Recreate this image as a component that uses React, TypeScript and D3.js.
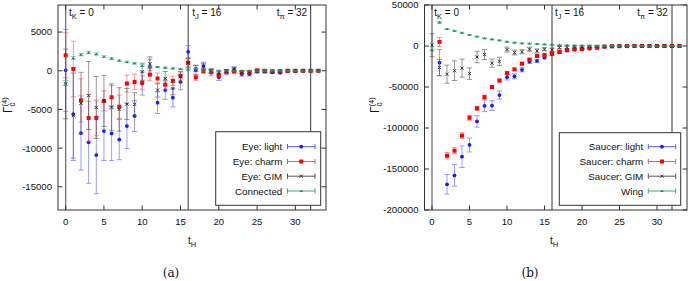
import React from "react";
import * as d3 from "d3";

const tH = [0,1,2,3,4,5,6,7,8,9,10,11,12,13,14,15,16,17,18,19,20,21,22,23,24,25,26,27,28,29,30,31,32,33];

// Panel (a)
const eyeLight = [50,-5600,-8050,-9250,-10900,-7800,-8100,-8900,-7150,-5850,-1650,500,-4130,-2500,-3480,-1450,2450,100,600,-250,-850,-200,190,-420,-420,-100,-100,-200,-250,-50,-50,0,0,0];
const eyeLightErr = [5300,6000,4800,5300,5000,3800,3500,2600,2900,2000,1500,1000,1400,1200,1200,1000,800,600,500,400,400,300,300,300,250,200,200,150,150,120,100,100,100,100];
const eyeCharm = [2000,230,-3830,-6100,-6100,-3900,-3430,-4650,-1650,-1450,-1540,-500,-1000,-1800,-1300,-680,1050,-850,-30,-100,-550,-30,-100,-200,-200,60,0,-50,-50,0,0,0,0,0];
const eyeCharmErr = [2900,3600,2800,3000,2300,1300,1500,1500,1100,1000,900,800,700,600,600,500,500,400,300,250,250,200,200,150,150,120,100,100,100,80,80,80,80,80];
const eyeGIM = [-1700,-5800,-4200,-3200,-4750,-3900,-4700,-5000,-4300,-4340,-120,900,-2500,-1000,-2300,-800,1000,300,600,0,-300,-100,200,-200,-200,-50,-50,-100,-100,0,0,0,0,0];
const eyeGIMErr = [4500,5500,4000,4400,4000,3300,3000,2800,2000,1500,1100,900,900,900,800,700,600,400,350,300,300,250,250,200,200,150,150,120,120,100,100,100,100,100];
const connected = [-1550,1650,2080,2360,2170,1820,1580,1320,1130,960,660,530,470,400,310,230,170,230,40,20,10,0,0,0,0,0,0,0,0,0,0,0,0,0];
const connectedErr = [300,200,150,150,150,120,120,100,100,100,100,80,80,80,80,80,80,60,60,60,60,60,60,60,60,60,60,60,60,60,60,60,60,60];

// Panel (b)
const saucerLight = [null,-20300,-168700,-157800,-135000,-120700,-92000,-73000,-72600,-59800,-38000,-37000,-29000,-19100,-18100,-14000,-10000,-7800,-5500,-4500,-4000,-3000,-2000,-1000,-500,-300,-200,-100,0,0,0,0,0,0];
const saucerLightErr = [null,16000,12000,13200,13200,8500,7000,7000,6000,5000,3500,3000,2500,2000,2000,1800,1500,1200,1000,900,800,700,600,500,500,400,400,300,300,300,300,300,300,300];
const saucerCharm = [null,5000,-133800,-127700,-109300,-87500,-76000,-62400,-50000,-42100,-33000,-28500,-21500,-16500,-12200,-11000,-9000,-7000,-5000,-4000,-3800,-2800,-2000,-800,-400,-200,-100,0,0,0,0,0,0,0];
const saucerCharmErr = [null,5500,3900,3900,3500,3000,2500,2500,2000,1800,1600,1500,1400,1300,1200,1100,1000,900,800,700,600,500,500,400,400,300,300,300,200,200,200,200,200,200];
const saucerGIM = [1000,-26200,-34400,-30100,-27000,-33700,-13400,-10500,-21000,-18700,-4300,-8000,-7000,-4000,-6000,-4000,-4500,-2000,-1800,-1200,-1000,-500,-300,-200,-100,0,0,0,0,0,0,0,0,0];
const saucerGIMErr = [14000,10000,11000,12000,11000,7000,7000,6000,5000,5000,3000,3000,2500,2500,2500,2000,2000,1500,1500,1200,1000,1000,800,800,600,600,500,500,400,400,400,400,400,400];
const wing = [-5000,28800,20700,18500,16200,13600,11500,9500,8100,6900,5300,4200,3300,3000,2500,2000,1500,1200,900,700,500,400,300,200,100,0,0,0,0,0,0,0,0,0];
const wingErr = [1000,800,600,500,500,500,500,500,500,500,500,500,500,500,500,500,500,500,500,500,500,500,500,500,500,500,500,500,500,500,500,500,500,500];

const xTicks = [0,5,10,15,20,25,30];
const yTicksA = [-15000,-10000,-5000,0,5000];
const yTicksB = [-200000,-150000,-100000,-50000,0,50000];
const markerLines = [{ t: 0, label: "K", value: "0" }, { t: 16, label: "J", value: "16" }, { t: 32, label: "π", value: "32" }];

const legendA = ["Eye: light", "Eye: charm", "Eye: GIM", "Connected"];
const legendB = ["Saucer: light", "Saucer: charm", "Saucer: GIM", "Wing"];

const STYLES = [
  { color: "#1a1aff", bar: "#5a5aff", marker: "circle" },
  { color: "#ff0000", bar: "#ff5050", marker: "square" },
  { color: "#222222", bar: "#555555", marker: "cross" },
  { color: "#00905e", bar: "#40a880", marker: "tri" },
];

const FONT = "'Liberation Sans', Arial, Helvetica, sans-serif";

type Series = { values: (number | null)[]; errs: (number | null)[] };

function Marker({ kind, x, y, color }: { kind: string; x: number; y: number; color: string }) {
  if (kind === "circle") return <circle cx={x} cy={y} r={1.9} fill={color} />;
  if (kind === "square") return <rect x={x - 2} y={y - 2} width={4} height={4} fill={color} />;
  if (kind === "cross")
    return (
      <path d={`M${x - 1.6},${y - 1.6}L${x + 1.6},${y + 1.6}M${x - 1.6},${y + 1.6}L${x + 1.6},${y - 1.6}`} stroke={color} strokeWidth={0.9} />
    );
  return <path d={`M${x - 1.8},${y + 1}L${x + 1.8},${y + 1}L${x},${y - 1.3}Z`} fill={color} />;
}

function Panel(props: {
  id: string;
  x0: number; x1: number; y0: number; y1: number;
  yDomain: [number, number];
  yTicks: number[];
  series: Series[];
  legend: string[];
  legendBox: { x0: number; x1: number; y0: number; y1: number; textX: number; s0: number; s1: number };
  ylabelX: number;
  xlabelX: number;
  caption: string;
  captionX: number;
  lineLabelX: number[];
}) {
  const { x0, x1, y0, y1 } = props;
  const xs = d3.scaleLinear().domain([-1, 34]).range([x0, x1]);
  const ys = d3.scaleLinear().domain(props.yDomain).range([y1, y0]);
  const tick = 4.5;
  const lb = props.legendBox;
  const rows = [146.7, 161.5, 176.2, 191];
  return (
    <g>
      <defs>
        <clipPath id={props.id}>
          <rect x={x0} y={y0} width={x1 - x0} height={y1 - y0} />
        </clipPath>
      </defs>
      {markerLines.map((m, i) => (
        <line key={i} x1={xs(m.t)} x2={xs(m.t)} y1={y0} y2={y1} stroke={i === 0 ? "#777" : "#333"} strokeWidth={i === 0 ? 1.4 : 1} />
      ))}
      {markerLines.map((m, i) => (
        <text key={"l" + i} x={props.lineLabelX[i]} y={16} fontFamily={FONT} fontSize={10} fill="#111">
          t<tspan fontSize={7.5} dy={2.5}>{m.label}</tspan>
          <tspan dy={-2.5}>{" = " + m.value}</tspan>
        </text>
      ))}
      <g clipPath={`url(#${props.id})`}>
        {props.series.map((s, si) => {
          const st = STYLES[si];
          return (
            <g key={si}>
              {tH.map((t, i) => {
                const v = s.values[i];
                const e = s.errs[i];
                if (v == null || e == null) return null;
                const x = xs(t);
                const ya = ys(v + e);
                const yb = ys(v - e);
                return (
                  <g key={i} stroke={st.bar} strokeOpacity={0.6} strokeWidth={1}>
                    <line x1={x} x2={x} y1={ya} y2={yb} />
                    <line x1={x - 2.6} x2={x + 2.6} y1={ya} y2={ya} />
                    <line x1={x - 2.6} x2={x + 2.6} y1={yb} y2={yb} />
                  </g>
                );
              })}
              {tH.map((t, i) => {
                const v = s.values[i];
                if (v == null) return null;
                return <Marker key={"m" + i} kind={st.marker} x={xs(t)} y={ys(v)} color={st.color} />;
              })}
            </g>
          );
        })}
      </g>
      <rect x={x0} y={y0} width={x1 - x0} height={y1 - y0} fill="none" stroke="#333" strokeWidth={1} />
      {xTicks.map((t) => (
        <g key={"xt" + t}>
          <line x1={xs(t)} x2={xs(t)} y1={y1} y2={y1 - tick} stroke="#333" />
          <line x1={xs(t)} x2={xs(t)} y1={y0} y2={y0 + tick} stroke="#333" />
          <text x={xs(t)} y={225} textAnchor="middle" fontFamily={FONT} fontSize={9.6} fill="#111">{t}</text>
        </g>
      ))}
      {props.yTicks.map((v) => (
        <g key={"yt" + v}>
          <line x1={x0} x2={x0 + tick} y1={ys(v)} y2={ys(v)} stroke="#333" />
          <line x1={x1} x2={x1 - tick} y1={ys(v)} y2={ys(v)} stroke="#333" />
          <text x={x0 - 6} y={ys(v) + 3.4} textAnchor="end" fontFamily={FONT} fontSize={9.6} fill="#111">{v}</text>
        </g>
      ))}
      <rect x={lb.x0} y={lb.y0} width={lb.x1 - lb.x0} height={lb.y1 - lb.y0} fill="#fff" stroke="#333" strokeWidth={1} />
      {props.legend.map((name, i) => {
        const st = STYLES[i];
        const y = rows[i];
        const mid = (lb.s0 + lb.s1) / 2;
        return (
          <g key={"lg" + i}>
            <text x={lb.textX} y={y + 3.5} textAnchor="end" fontFamily={FONT} fontSize={9.8} fill="#111">{name}</text>
            <g stroke={st.bar} strokeWidth={1}>
              <line x1={lb.s0} x2={lb.s1} y1={y} y2={y} />
              <line x1={lb.s0} x2={lb.s0} y1={y - 2.6} y2={y + 2.6} />
              <line x1={lb.s1} x2={lb.s1} y1={y - 2.6} y2={y + 2.6} />
            </g>
            <Marker kind={st.marker} x={mid} y={y} color={st.color} />
          </g>
        );
      })}
      <text transform={`translate(${props.ylabelX},113) rotate(-90)`} fontFamily={FONT} fontSize={12} fill="#111">
        Γ<tspan fontSize={7.5} dy={2.5}>0</tspan>
        <tspan fontSize={7.5} dx={-4.2} dy={-7.5}>(4)</tspan>
      </text>
      <text x={props.xlabelX} y={244} fontFamily={FONT} fontSize={10} fill="#111">
        t<tspan fontSize={7.5} dy={2.5}>H</tspan>
      </text>
      <text x={props.captionX} y={277} textAnchor="middle" fontFamily="'DejaVu Serif', 'Liberation Serif', serif" fontSize={12} fill="#111">{props.caption}</text>
    </g>
  );
}

export default function App() {
  const seriesA: Series[] = [
    { values: eyeLight, errs: eyeLightErr },
    { values: eyeCharm, errs: eyeCharmErr },
    { values: eyeGIM, errs: eyeGIMErr },
    { values: connected, errs: connectedErr },
  ];
  const seriesB: Series[] = [
    { values: saucerLight, errs: saucerLightErr },
    { values: saucerCharm, errs: saucerCharmErr },
    { values: saucerGIM, errs: saucerGIMErr },
    { values: wing, errs: wingErr },
  ];
  return (
    <svg width={688} height={281} style={{ position: "absolute", left: 0, top: 0, background: "#fff" }}>
      <rect width={688} height={281} fill="#fff" />
      <Panel
        id="clipA" x0={58} x1={326} y0={5} y1={210}
        yDomain={[-18000, 8500]} yTicks={yTicksA}
        series={seriesA} legend={legendA}
        legendBox={{ x0: 215.7, x1: 320.7, y0: 131.7, y1: 205.3, textX: 282.3, s0: 287.5, s1: 315 }}
        ylabelX={12} xlabelX={188} caption="(a)" captionX={171}
        lineLabelX={[69, 192.3, 276.7]}
      />
      <Panel
        id="clipB" x0={424.5} x1={687} y0={5} y1={210}
        yDomain={[-200000, 50000]} yTicks={yTicksB}
        series={seriesB} legend={legendB}
        legendBox={{ x0: 559.3, x1: 680.7, y0: 132.7, y1: 205.3, textX: 643.3, s0: 648.3, s1: 675.7 }}
        ylabelX={379} xlabelX={550} caption="(b)" captionX={530}
        lineLabelX={[434.3, 555, 637.3]}
      />
    </svg>
  );
}
